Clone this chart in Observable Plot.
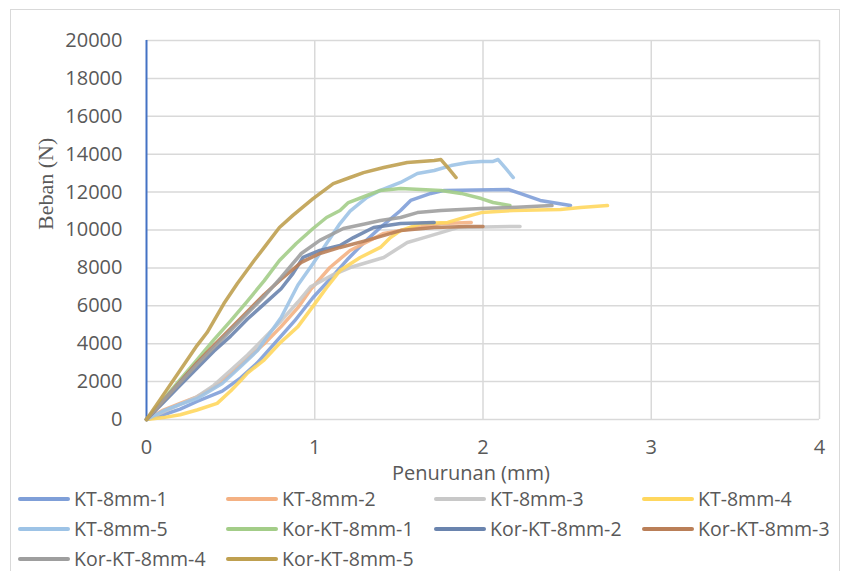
<!DOCTYPE html>
<html>
<head>
<meta charset="utf-8">
<script src="https://cdn.jsdelivr.net/npm/d3@7"></script>
<script src="https://cdn.jsdelivr.net/npm/@observablehq/plot@0.6"></script>
<style>
  html, body { margin: 0; padding: 0; background: #fff; overflow: hidden; }
  #frame { position: absolute; left: 10px; top: 9px; width: 830px; height: 620px; border: 1.5px solid #d9d9d9; box-sizing: border-box; }
  #chart { position: absolute; left: 0; top: 0; }
  #legend { position: absolute; left: 18px; top: 484px; display: grid; grid-template-columns: repeat(4, 208px); grid-auto-rows: 30px; font-family: "Open Sans", sans-serif; font-size: 19.5px; line-height: 22px; color: #595959; }
  .item { display: flex; align-items: center; white-space: nowrap; }
  .swatch { width: 52px; height: 4px; margin-right: 4px; border-radius: 2px; }
</style>
</head>
<body>
<div id="frame"></div>
<div id="chart"></div>
<div id="legend"></div>
<script>
const seriesNames = ["KT-8mm-1","KT-8mm-2","KT-8mm-3","KT-8mm-4","KT-8mm-5",
  "Kor-KT-8mm-1","Kor-KT-8mm-2","Kor-KT-8mm-3","Kor-KT-8mm-4","Kor-KT-8mm-5"];
const seriesColors = ["#7f9fd8","#f4b183","#c8c8c8","#ffd75e","#9dc3e6",
  "#a3cd88","#6a84ae","#ba7f58","#9e9e9e","#bfa050"];
const xTicks = [0,1,2,3,4];
const yTicks = [0,2000,4000,6000,8000,10000,12000,14000,16000,18000,20000];

// [penurunan (mm), beban (N)]
const kt1 = [[0,0],[0.1,250],[0.2,550],[0.3,950],[0.45,1500],[0.56,2200],[0.66,3000],[0.76,4000],[0.88,5200],[0.99,6440],[1.1,7500],[1.2,8500],[1.3,9400],[1.39,10130],[1.51,11030],[1.57,11560],[1.69,11930],[1.77,12090],[2.15,12140],[2.22,11930],[2.34,11560],[2.52,11290]];
const kt2 = [[0,0],[0.1,500],[0.2,850],[0.3,1200],[0.4,1700],[0.5,2400],[0.6,3200],[0.7,4000],[0.8,4900],[0.9,5900],[0.975,6850],[1.09,8020],[1.21,8920],[1.41,9820],[1.61,10130],[1.75,10340],[1.93,10400]];
const kt3 = [[0,0],[0.1,400],[0.2,800],[0.3,1200],[0.4,1800],[0.5,2600],[0.6,3400],[0.7,4300],[0.8,5200],[0.9,6200],[0.975,7000],[1.1,7600],[1.21,8020],[1.41,8550],[1.55,9340],[1.65,9600],[1.79,9970],[1.85,10130],[2.22,10190]];
const kt4 = [[0,0],[0.1,100],[0.2,250],[0.3,500],[0.42,850],[0.5,1500],[0.56,2060],[0.6,2450],[0.7,3150],[0.79,4010],[0.9,4900],[1.0,6100],[1.07,6950],[1.15,7860],[1.27,8550],[1.39,9080],[1.45,9600],[1.51,9970],[1.63,10340],[1.79,10400],[1.87,10610],[1.93,10770],[1.99,10920],[2.18,11030],[2.46,11080],[2.58,11190],[2.74,11290]];
const kt5 = [[0,0],[0.1,450],[0.2,800],[0.3,1100],[0.45,1900],[0.56,2800],[0.66,3640],[0.8,5380],[0.9,7100],[0.99,8230],[1.07,9290],[1.15,10340],[1.21,11000],[1.31,11720],[1.39,12090],[1.51,12510],[1.61,12980],[1.71,13140],[1.81,13400],[1.91,13560],[1.99,13620],[2.06,13620],[2.09,13720],[2.13,13300],[2.18,12770]];
const kor1 = [[0,0],[0.1,1050],[0.2,2100],[0.3,3150],[0.4,4200],[0.5,5200],[0.6,6250],[0.7,7330],[0.79,8390],[0.89,9290],[0.99,10080],[1.07,10660],[1.15,11030],[1.2,11450],[1.31,11820],[1.39,12090],[1.51,12190],[1.75,12090],[1.87,11930],[1.99,11660],[2.06,11450],[2.16,11290]];
const kor2 = [[0,0],[0.1,900],[0.2,1800],[0.3,2700],[0.4,3600],[0.5,4400],[0.6,5300],[0.7,6100],[0.8,6900],[0.87,7700],[0.93,8550],[1.03,8920],[1.15,9180],[1.23,9600],[1.35,10130],[1.51,10340],[1.71,10400]];
const kor3 = [[0,0],[0.1,1000],[0.2,2000],[0.3,3000],[0.4,3900],[0.5,4800],[0.6,5700],[0.7,6600],[0.8,7400],[0.92,8290],[1.03,8760],[1.15,9080],[1.31,9450],[1.51,9970],[1.71,10130],[1.91,10190],[2.0,10190]];
const kor4 = [[0,0],[0.1,1000],[0.2,1950],[0.3,2900],[0.4,3800],[0.5,4700],[0.6,5600],[0.7,6500],[0.8,7500],[0.92,8760],[1.03,9450],[1.17,10080],[1.31,10340],[1.39,10500],[1.51,10660],[1.61,10920],[1.75,11030],[1.99,11130],[2.2,11200],[2.41,11290]];
const kor5 = [[0,0],[0.1,1300],[0.2,2600],[0.3,3900],[0.36,4590],[0.46,6120],[0.54,7180],[0.64,8390],[0.7,9080],[0.79,10130],[0.87,10770],[0.99,11660],[1.11,12450],[1.21,12770],[1.29,13030],[1.41,13300],[1.55,13560],[1.71,13670],[1.75,13720],[1.79,13300],[1.84,12770]];

const allSeries = [kt1,kt2,kt3,kt4,kt5,kor1,kor2,kor3,kor4,kor5];
const data = allSeries.flatMap((s, i) => s.map(([x, y]) => ({series: seriesNames[i], x, y})));

const chart = Plot.plot({
  width: 843,
  height: 490,
  marginLeft: 146,
  marginRight: 24,
  marginTop: 40,
  marginBottom: 71,
  style: {fontFamily: "'Open Sans', sans-serif", fontSize: "20px", color: "#595959", background: "transparent"},
  x: {domain: [0, 4], ticks: xTicks, label: null},
  y: {domain: [0, 20000], ticks: yTicks, label: null},
  color: {domain: seriesNames, range: seriesColors},
  marks: [
    Plot.gridX(xTicks.slice(1), {stroke: "#d9d9d9", strokeOpacity: 1, strokeWidth: 1.5}),
    Plot.gridY(yTicks, {stroke: "#d9d9d9", strokeOpacity: 1, strokeWidth: 1.5}),
    Plot.ruleX([0], {stroke: "#4472c4", strokeWidth: 2}),
    Plot.line(data, {x: "x", y: "y", z: "series", stroke: "series", strokeWidth: 3.5, strokeOpacity: 0.9, strokeLinejoin: "round", strokeLinecap: "round"}),
    Plot.axisY(yTicks, {tickSize: 0, tickPadding: 24, fontSize: 20, fill: "#595959", tickFormat: d => String(d)}),
    Plot.axisX(xTicks, {tickSize: 0, tickPadding: 20, fontSize: 20, fill: "#595959", tickFormat: d => String(d)}),
    Plot.text(["Penurunan (mm)"], {frameAnchor: "bottom", dy: 60, dx: -12, fontSize: 20, fill: "#595959"}),
    Plot.text(["Beban (N)"], {frameAnchor: "left", dx: -101, rotate: -90, fontSize: 22, fill: "#595959", fontFamily: "'Liberation Serif', serif"})
  ]
});
document.getElementById("chart").appendChild(chart);

const legend = document.getElementById("legend");
seriesNames.forEach((name, i) => {
  const item = document.createElement("div");
  item.className = "item";
  const sw = document.createElement("span");
  sw.className = "swatch";
  sw.style.background = seriesColors[i];
  const label = document.createElement("span");
  label.textContent = name;
  item.appendChild(sw);
  item.appendChild(label);
  legend.appendChild(item);
});
</script>
</body>
</html>
